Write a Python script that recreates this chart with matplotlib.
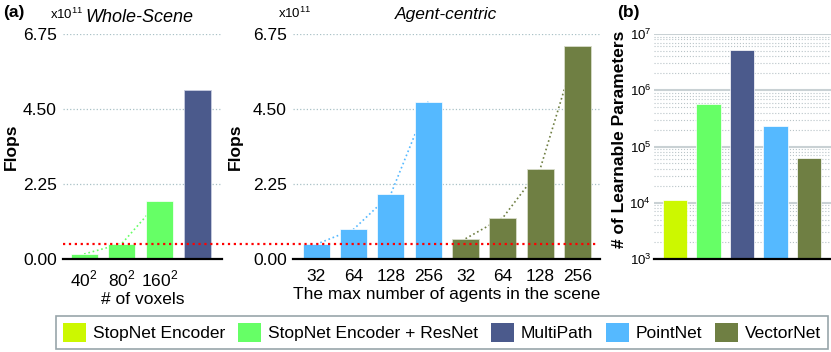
import numpy as np
import matplotlib
matplotlib.use('Agg')
import matplotlib.pyplot as plt
from matplotlib.patches import Patch

plt.rcParams['font.family'] = ['Liberation Sans', 'DejaVu Sans']
plt.rcParams['mathtext.fontset'] = 'custom'
plt.rcParams['mathtext.rm'] = 'Liberation Sans'

# 数据 (Flops 单位: x10^11)
voxel_labels = ['40$^2$', '80$^2$', '160$^2$', '']
resnet_flops = [0.15, 0.46, 1.74]
multipath_flops = 5.07
agent_labels = ['32', '64', '128', '256']
pointnet_flops = [0.44, 0.89, 1.95, 4.72]
vectornet_flops = [0.61, 1.24, 2.71, 6.40]
ref_flops = 0.46

models = ['StopNet Encoder', 'StopNet Encoder + ResNet', 'MultiPath', 'PointNet', 'VectorNet']
params = [1.1e4, 5.8e5, 5.1e6, 2.3e5, 6.3e4]

colors = {
    'StopNet Encoder': '#ccf800',
    'StopNet Encoder + ResNet': '#66ff66',
    'MultiPath': '#4b5a8c',
    'PointNet': '#55b9ff',
    'VectorNet': '#6f7f43',
}

W, H = 831, 352
fig = plt.figure(figsize=(W / 100, H / 100), dpi=100)

def px_axes(x0, x1, y_top, y_bot):
    return fig.add_axes([x0 / W, 1 - y_bot / H, (x1 - x0) / W, (y_bot - y_top) / H])

ax1 = px_axes(63, 222, 34, 259)
ax2 = px_axes(293, 600, 34, 259)
ax3 = px_axes(654, 831, 34, 259)
ax2.patch.set_visible(False)
ax2.set_zorder(2)

grid_c = '#a9c1c6'
bw = 0.72

def style_axis(ax):
    for s in ['top', 'right', 'left']:
        ax.spines[s].set_visible(False)
    ax.spines['bottom'].set_linewidth(1.6)
    ax.spines['bottom'].set_color('black')
    ax.tick_params(axis='both', length=0, labelsize=12.5)
    ax.tick_params(axis='y', pad=4.5)
    ax.tick_params(axis='x', pad=7)
    ax.set_axisbelow(True)

# (a) Whole-Scene
style_axis(ax1)
x1 = np.arange(4)
ax1.plot(x1[:3], resnet_flops, ':', color=colors['StopNet Encoder + ResNet'], lw=1.2, zorder=1)
ax1.bar(x1[:3], resnet_flops, width=bw, color=colors['StopNet Encoder + ResNet'],
        edgecolor='white', linewidth=0.5, zorder=2)
ax1.bar(x1[3], multipath_flops, width=bw, color=colors['MultiPath'],
        edgecolor='#c8cde0', linewidth=0.6, zorder=2)
ax1.set_xlim(-0.56, 3.66)
ax1.set_ylim(0, 6.75)
ax1.set_yticks([0, 2.25, 4.5, 6.75])
ax1.set_yticklabels(['0.00', '2.25', '4.50', '6.75'])
ax1.set_xticks(x1)
ax1.set_xticklabels(voxel_labels)
ax1.yaxis.grid(True, linestyle=':', color=grid_c, lw=0.9)
ax1.set_xlabel('# of voxels', fontsize=12.5, labelpad=2)
ax1.set_ylabel('Flops', fontsize=12.5, fontweight='bold')
ax1.yaxis.set_label_coords(-0.277, 0.5)

# Agent-centric
style_axis(ax2)
xp = np.arange(4)
xv = np.arange(4, 8)
ax2.plot(xp, pointnet_flops, ':', color=colors['PointNet'], lw=1.2, zorder=1)
ax2.plot(xv, vectornet_flops, ':', color=colors['VectorNet'], lw=1.2, zorder=1)
ax2.bar(xp, pointnet_flops, width=bw, color=colors['PointNet'],
        edgecolor='white', linewidth=0.5, zorder=2)
ax2.bar(xv, vectornet_flops, width=bw, color=colors['VectorNet'],
        edgecolor='#d8dccb', linewidth=0.6, zorder=2)
ax2.set_xlim(-0.62, 7.6)
ax2.set_ylim(0, 6.75)
ax2.set_yticks([0, 2.25, 4.5, 6.75])
ax2.set_yticklabels(['0.00', '2.25', '4.50', '6.75'])
ax2.set_xticks(np.arange(8))
ax2.set_xticklabels(agent_labels + agent_labels)
ax2.yaxis.grid(True, linestyle=':', color=grid_c, lw=0.9)
ax2.set_xlabel('The max number of agents in the scene', fontsize=12.5, labelpad=2)
ax2.set_ylabel('Flops', fontsize=12.5, fontweight='bold')
ax2.yaxis.set_label_coords(-0.163, 0.5)

# 红色参考线, 从左图起横跨到右边
p1 = ax1.get_position()
p2 = ax2.get_position()
xmin = (p1.x0 - p2.x0) / p2.width
xmax = (p2.x1 - 0.003 - p2.x0) / p2.width
ax2.axhline(ref_flops, xmin=xmin, xmax=xmax, color='red', linestyle=':', lw=1.6,
            clip_on=False, zorder=5)

# (b) Learnable parameters
style_axis(ax3)
x3 = np.arange(len(models))
ax3.bar(x3, params, width=bw, color=[colors[m] for m in models],
        edgecolor='white', linewidth=0.5, zorder=2)
ax3.set_yscale('log')
ax3.set_ylim(1e3, 1e7)
ax3.set_xlim(-0.63, 4.66)
ax3.set_xticks([])
ax3.set_yticks([1e3, 1e4, 1e5, 1e6, 1e7])
ax3.set_yticklabels(['$10^3$', '$10^4$', '$10^5$', '$10^6$', '$10^7$'])
ax3.tick_params(axis='y', which='both', length=0, labelsize=9.5, pad=2)
ax3.yaxis.grid(True, which='major', linestyle='-', color='#c9d1d4', lw=1.5)
ax3.yaxis.grid(True, which='minor', linestyle=':', color='#b9c4c8', lw=0.8)
ax3.set_ylabel('# of Learnable Parameters', fontsize=12.5, fontweight='bold')
ax3.yaxis.set_label_coords(-0.15, 0.533)

# 标题与标注
fig.text(3 / W, 1 - 13 / H, '(a)', fontsize=12.5, fontweight='bold', va='center')
fig.text(617 / W, 1 - 12 / H, '(b)', fontsize=12.5, fontweight='bold', va='center')
fig.text(50 / W, 1 - 14 / H, 'x10$^{11}$', fontsize=9.5, va='center')
fig.text(278 / W, 1 - 13 / H, 'x10$^{11}$', fontsize=9.5, va='center')
fig.text(85 / W, 1 - 17 / H, 'Whole-Scene', fontsize=13, style='italic', va='center')
fig.text(446 / W, 1 - 15 / H, 'Agent-centric', fontsize=12.5, style='italic',
         va='center', ha='center')

# 图例
handles = [Patch(facecolor=colors[m], edgecolor='none', label=m) for m in models]
leg = fig.legend(handles=handles, loc='center', bbox_to_anchor=(442 / W, 1 - 332.5 / H),
                 ncol=5, fontsize=12.5, frameon=True, fancybox=False,
                 handlelength=1.32, handleheight=1.32, handletextpad=0.4,
                 columnspacing=0.75, borderpad=0.4, borderaxespad=0)
leg.get_frame().set_edgecolor('#7f8f95')
leg.get_frame().set_linewidth(1.2)

plt.savefig('out.png', dpi=100)
